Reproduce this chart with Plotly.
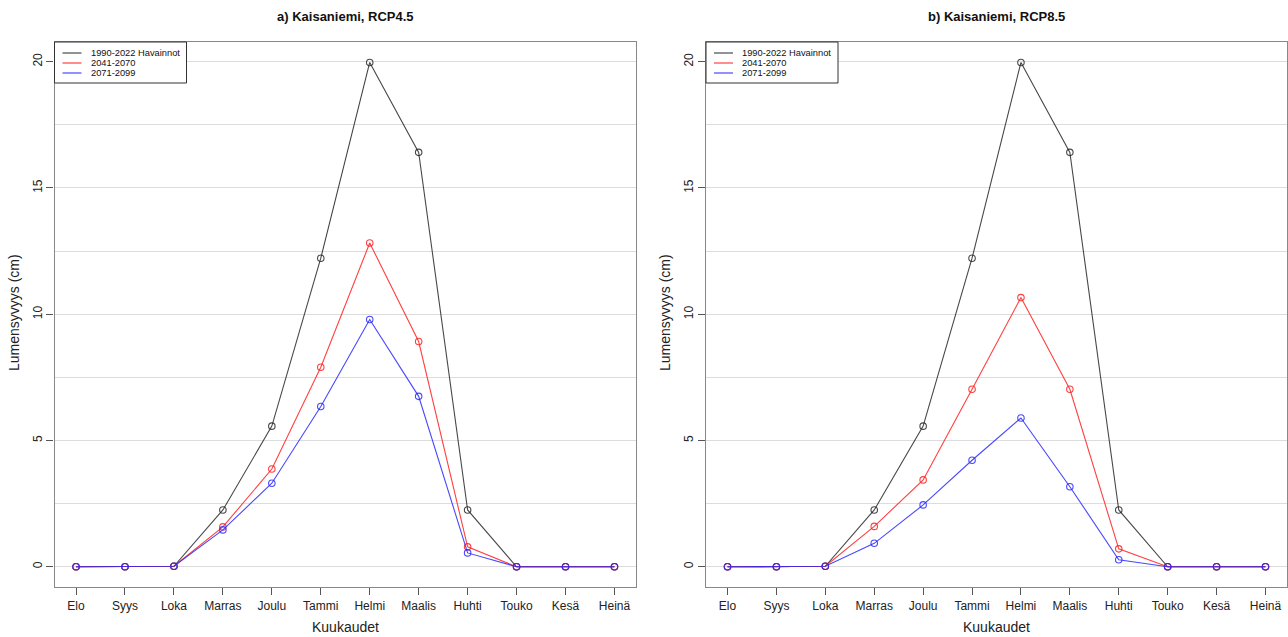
import plotly.graph_objects as go

months = ["Elo", "Syys", "Loka", "Marras", "Joulu", "Tammi", "Helmi", "Maalis", "Huhti", "Touko", "Kesä", "Heinä"]

obs = [0.0, 0.0, 0.02, 2.25, 5.57, 12.22, 19.97, 16.41, 2.25, 0.0, 0.0, 0.0]

rcp45_2041 = [0.0, 0.0, 0.02, 1.58, 3.87, 7.9, 12.82, 8.92, 0.79, 0.0, 0.0, 0.0]
rcp45_2071 = [0.0, 0.0, 0.02, 1.46, 3.31, 6.35, 9.79, 6.75, 0.55, 0.0, 0.0, 0.0]

rcp85_2041 = [0.0, 0.0, 0.02, 1.6, 3.44, 7.03, 10.66, 7.03, 0.71, 0.0, 0.0, 0.0]
rcp85_2071 = [0.0, 0.0, 0.02, 0.93, 2.45, 4.22, 5.89, 3.17, 0.28, 0.0, 0.0, 0.0]

series_names = ["1990-2022 Havainnot", "2041-2070", "2071-2099"]
colors = ["rgba(40,40,40,0.85)", "rgba(255,30,30,0.85)", "rgba(40,40,255,0.85)"]

titles = ["a) Kaisaniemi, RCP4.5", "b) Kaisaniemi, RCP8.5"]
panels = [[obs, rcp45_2041, rcp45_2071], [obs, rcp85_2041, rcp85_2071]]

W, H = 1288, 637
box_left = [54.5, 706]
box_right = [636, 1287]
box_top, box_bot = 41.5, 587
xdom = [[box_left[p] / W, box_right[p] / W] for p in range(2)]
ydom = [1 - box_bot / H, 1 - box_top / H]

FONT = "Liberation Sans, Arial, sans-serif"
fig = go.Figure()
xidx = list(range(len(months)))

for p in range(2):
    xa = "x" if p == 0 else "x2"
    ya = "y" if p == 0 else "y2"
    for s in range(3):
        fig.add_trace(go.Scatter(
            x=xidx, y=panels[p][s], mode="lines+markers",
            line=dict(color=colors[s], width=1.1),
            marker=dict(symbol="circle-open", size=6.5, color=colors[s], line=dict(width=1.1)),
            xaxis=xa, yaxis=ya, showlegend=False, name=series_names[s]))

axis_common = dict(showline=True, mirror=True, linecolor="#888888", linewidth=1.3,
                   ticks="outside", ticklen=7, tickcolor="#555555", tickwidth=1,
                   tickfont=dict(family=FONT, size=12, color="#222222"))

for p in range(2):
    sfx = "" if p == 0 else "2"
    fig.update_layout(**{
        "xaxis" + sfx: dict(domain=xdom[p], range=[-0.44, 11.44], tickmode="array",
                            tickvals=xidx, ticktext=months, showgrid=False, zeroline=False,
                            anchor="y" + sfx, **axis_common),
        "yaxis" + sfx: dict(domain=ydom, range=[-0.8, 20.8], tickmode="array",
                            tickvals=[0, 5, 10, 15, 20], tickangle=-90,
                            showgrid=True, gridcolor="#dcdcdc", gridwidth=1, zeroline=False,
                            minor=dict(tickvals=[2.5, 7.5, 12.5, 17.5], showgrid=True,
                                       gridcolor="#dcdcdc", gridwidth=1, ticklen=0),
                            anchor="x" + sfx, **axis_common),
    })

# legend drawn as a box in each panel's top-left corner
shapes = []
annos = []
leg_rows = [53, 63, 73]
for p in range(2):
    x0 = box_left[p]
    shapes.append(dict(type="rect", xref="paper", yref="paper",
                       x0=x0 / W, x1=(x0 + 132) / W, y0=1 - 83 / H, y1=1 - 42 / H,
                       line=dict(color="#333333", width=1), fillcolor="white", layer="above"))
    for s in range(3):
        yy = 1 - leg_rows[s] / H
        shapes.append(dict(type="line", xref="paper", yref="paper",
                           x0=(x0 + 8) / W, x1=(x0 + 27) / W, y0=yy, y1=yy,
                           line=dict(color=colors[s], width=1.2), layer="above"))
        annos.append(dict(text=series_names[s], x=(x0 + 34) / W, y=yy, xref="paper", yref="paper",
                          showarrow=False, xanchor="left", yanchor="middle",
                          font=dict(family=FONT, size=9.3, color="#111111")))

centers = [(box_left[p] + box_right[p]) / 2 / W for p in range(2)]
for p in range(2):
    annos.append(dict(text="<b>" + titles[p] + "</b>", x=centers[p], y=1 - 17 / H, xref="paper", yref="paper",
                      showarrow=False, font=dict(family=FONT, size=13, color="#111111"),
                      xanchor="center", yanchor="middle"))
    annos.append(dict(text="Kuukaudet", x=centers[p], y=1 - 627 / H, xref="paper", yref="paper",
                      showarrow=False, font=dict(family=FONT, size=14, color="#222222"),
                      xanchor="center", yanchor="middle"))
    annos.append(dict(text="Lumensyvyys (cm)", x=(14 if p == 0 else 665) / W, y=1 - 313 / H,
                      xref="paper", yref="paper", showarrow=False, textangle=-90,
                      font=dict(family=FONT, size=14, color="#222222"),
                      xanchor="center", yanchor="middle"))

fig.update_layout(width=W, height=H, margin=dict(l=0, r=0, t=0, b=0), showlegend=False,
                  paper_bgcolor="white", plot_bgcolor="white", annotations=annos, shapes=shapes)

fig.write_html("out.html")
